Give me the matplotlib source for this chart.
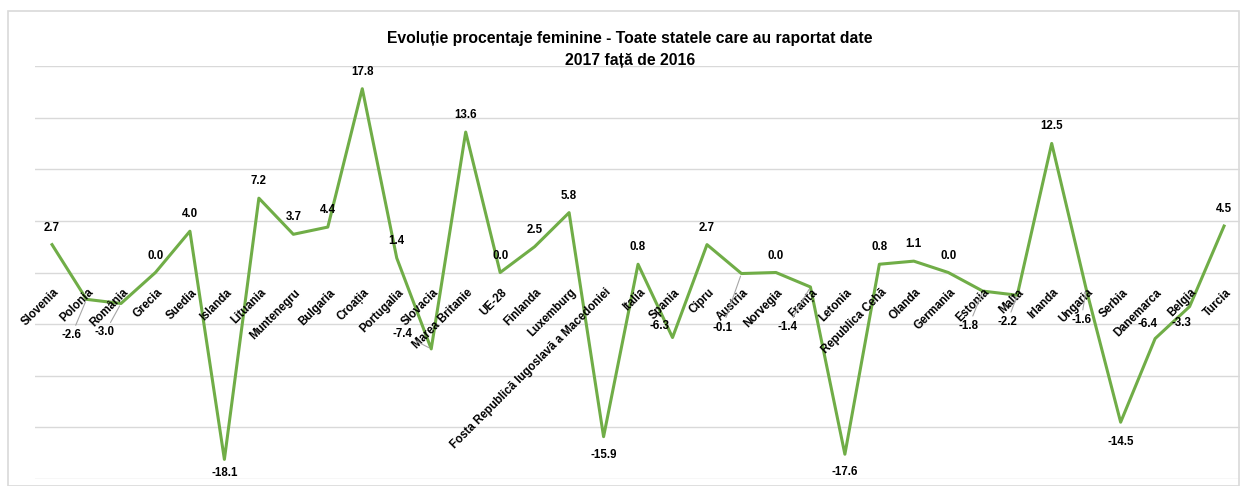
import numpy as np
import matplotlib.pyplot as plt
from matplotlib.patches import Rectangle

plt.rcParams['font.family'] = ['Liberation Sans', 'DejaVu Sans']

countries = ['Slovenia', 'Polonia', 'România', 'Grecia', 'Suedia', 'Islanda', 'Lituania',
             'Muntenegru', 'Bulgaria', 'Croația', 'Portugalia', 'Slovacia', 'Marea Britanie',
             'UE-28', 'Finlanda', 'Luxemburg', 'Fosta Republică Iugoslavă a Macedoniei',
             'Italia', 'Spania', 'Cipru', 'Austria', 'Norvegia', 'Franța', 'Letonia',
             'Republica Cehă', 'Olanda', 'Germania', 'Estonia', 'Malta', 'Irlanda',
             'Ungaria', 'Serbia', 'Danemarca', 'Belgia', 'Turcia']
values = [2.7, -2.6, -3.0, 0.0, 4.0, -18.1, 7.2,
          3.7, 4.4, 17.8, 1.4, -7.4, 13.6,
          0.0, 2.5, 5.8, -15.9,
          0.8, -6.3, 2.7, -0.1, 0.0, -1.4, -17.6,
          0.8, 1.1, 0.0, -1.8, -2.2, 12.5,
          -1.6, -14.5, -6.4, -3.3, 4.5]

# data label offsets (pixels) from the point, and which labels get a leader line
label_off = {
    'Polonia': (-15, -36), 'România': (-16, -29), 'Islanda': (0, -14),
    'Slovacia': (-29, 15), 'Fosta Republică Iugoslavă a Macedoniei': (0, -18),
    'Spania': (-13, 12), 'Austria': (-19, -54), 'Franța': (-23, -40),
    'Letonia': (0, -18), 'Estonia': (-14, -35), 'Malta': (-10, -27),
    'Ungaria': (-5, -31), 'Serbia': (0, -20), 'Danemarca': (-8, 15),
    'Belgia': (-8, -16),
}
leaders = ['Polonia', 'România', 'Slovacia', 'Austria', 'Franța', 'Estonia', 'Malta', 'Ungaria']

fig = plt.figure(figsize=(12.4, 4.86), dpi=100)
fig.patches.append(Rectangle((8 / 1240, 0), 1 - 8 / 1240 - 0.001, 1 - 11 / 486,
                             transform=fig.transFigure, fill=False,
                             edgecolor='#D9D9D9', lw=1.2))
ax = fig.add_axes([34.8 / 1240, 1 - 479 / 486, 1206.5 / 1240, (479 - 66) / 486])

x = np.arange(len(countries))
ax.plot(x, values, color='#70AD47', lw=2.2, zorder=3)

ax.set_xlim(-0.5, len(countries) - 0.5)
ax.set_ylim(-20, 20)
ax.set_yticks(np.arange(-20, 21, 5))
ax.yaxis.grid(True, color='#D9D9D9', lw=1)
ax.set_axisbelow(True)
ax.set_xticks([])
ax.set_yticklabels([])
ax.tick_params(left=False)
for s in ax.spines.values():
    s.set_visible(False)

for i, (c, v) in enumerate(zip(countries, values)):
    ax.annotate(c, (i, 0), xytext=(1, -14), textcoords='offset pixels',
                rotation=45, rotation_mode='anchor', ha='right', va='top',
                fontsize=8.3, fontweight='bold', color='black')
    dx, dy = label_off.get(c, (0, 17))
    props = None
    if c in leaders:
        props = dict(arrowstyle='-', color='#A6A6A6', lw=0.8, shrinkA=1, shrinkB=2)
    ax.annotate(f'{v:.1f}', (i, v), xytext=(dx, dy), textcoords='offset pixels',
                ha='center', va='center', fontsize=8.3, fontweight='bold',
                color='black', arrowprops=props, zorder=4)

fig.text(630 / 1240, 1 - 38 / 486, 'Evoluție procentaje feminine - Toate statele care au raportat date',
         ha='center', va='center', fontsize=11.3, fontweight='bold')
fig.text(630 / 1240, 1 - 60 / 486, '2017 față de 2016',
         ha='center', va='center', fontsize=11.3, fontweight='bold')

fig.savefig('out.png', dpi=100)
